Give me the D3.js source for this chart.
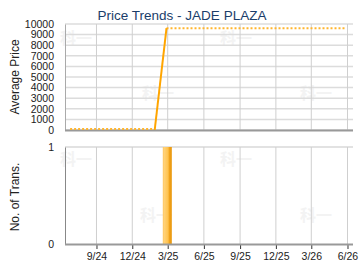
<!DOCTYPE html>
<html><head><meta charset="utf-8">
<script src="https://cdn.jsdelivr.net/npm/d3@7"></script>
<style>
body{margin:0;background:#fff;}
svg{display:block;font-family:"Liberation Sans",Arial,sans-serif;}
</style></head>
<body>
<svg id="c" width="360" height="270"></svg>
<script>
// ---- data ----
const titleText = "Price Trends - JADE PLAZA";
const priceDates = ["2025-01-27", "2025-02-26"];
const avgPrices = [0, 9600];
const extendStart = "2024-06-26";
const extendEnd = "2026-05-26";
const transDates = ["2025-02-28"];
const transCounts = [1];
const priceTicks = [0,1000,2000,3000,4000,5000,6000,7000,8000,9000,10000];
const transTicks = [0,1];
const xTickDates = ["2024-09-01","2024-12-01","2025-03-01","2025-06-01","2025-09-01","2025-12-01","2026-03-01","2026-06-01"];
const xTickLabels = ["9/24","12/24","3/25","6/25","9/25","12/25","3/26","6/26"];
const xDomain = ["2024-06-13","2026-06-15"];

(function(){
const parse = d3.timeParse("%Y-%m-%d");
const svg = d3.select("#c");
const L = 65, R = 353;
const T1 = 24, B1 = 130, T2 = 147, B2 = 244;

const x = d3.scaleTime().domain(xDomain.map(parse)).range([L, R]);
const y1 = d3.scaleLinear().domain([0, 10000]).range([B1, T1]);
const y2 = d3.scaleLinear().domain([0, 1]).range([B2, T2]);

const defs = svg.append("defs");
const g = defs.append("linearGradient").attr("id","barg").attr("x1","0").attr("x2","1").attr("y1","0").attr("y2","0");
[["0%","#FFC45A"],["15%","#FFD27A"],["60%","#FFC24C"],["70%","#F2A41E"],["100%","#E8960A"]].forEach(s=>g.append("stop").attr("offset",s[0]).attr("stop-color",s[1]));

const wm = [[76,44],[158,99],[236,44],[316,99],[76,165],[156,221],[236,165],[316,221]];
svg.append("g").selectAll("text").data(wm).join("text")
  .attr("x",d=>d[0]).attr("y",d=>d[1]).attr("text-anchor","middle")
  .attr("font-size",16).attr("font-weight","bold").attr("fill","#f3f3f3")
  .attr("font-family","'Noto Sans CJK SC',sans-serif").text("科一");

svg.append("text").attr("x",182).attr("y",20).attr("text-anchor","middle")
  .attr("font-size",13.5).attr("fill","#1a3d6a").text(titleText);

const tickDates = xTickDates.map(parse);
const topG = svg.append("g");
topG.append("g").selectAll("line").data(priceTicks).join("line")
  .attr("x1",L).attr("x2",R).attr("y1",d=>y1(d)).attr("y2",d=>y1(d))
  .attr("stroke","#dcdcdc").attr("stroke-width",1.5);
topG.append("g").selectAll("line").data(tickDates).join("line")
  .attr("x1",d=>x(d)).attr("x2",d=>x(d)).attr("y1",T1).attr("y2",B1)
  .attr("stroke","#cfcfcf").attr("stroke-width",1);
const ay1 = d3.axisLeft(y1).tickValues(priceTicks).tickSize(0).tickPadding(11).tickFormat(d3.format("d"));
const gy1 = topG.append("g").attr("transform",`translate(${L},0)`).call(ay1);
gy1.select(".domain").attr("stroke","#aaa");
gy1.selectAll("text").attr("font-size",10.5).attr("fill","#222").attr("font-family","'Liberation Sans',Arial,sans-serif");
topG.append("line").attr("x1",L).attr("x2",R).attr("y1",B1+0.5).attr("y2",B1+0.5).attr("stroke","#999").attr("stroke-width",2);

const pts = priceDates.map((d,i)=>[parse(d), avgPrices[i]]);
const line = d3.line().x(d=>x(d[0])).y(d=>y1(d[1]));
const startExt = [[parse(extendStart), avgPrices[0]], pts[0]];
const endExt = [pts[pts.length-1], [parse(extendEnd), avgPrices[avgPrices.length-1]]];
[startExt, endExt].forEach(seg=>{
  topG.append("path").attr("d",line(seg)).attr("fill","none")
    .attr("stroke","#FFB52E").attr("stroke-width",2).attr("stroke-dasharray","2,2")
    .attr("transform", seg===startExt ? "translate(0,-1)" : null);
});
topG.append("path").attr("d",line(pts)).attr("fill","none").attr("stroke","#FFA500").attr("stroke-width",2);

const bot = svg.append("g");
bot.append("line").attr("x1",L).attr("x2",R).attr("y1",y2(1)).attr("y2",y2(1)).attr("stroke","#d8d8d8").attr("stroke-width",1.5);
bot.append("g").selectAll("line").data(tickDates).join("line")
  .attr("x1",d=>x(d)).attr("x2",d=>x(d)).attr("y1",T2).attr("y2",B2)
  .attr("stroke","#cfcfcf").attr("stroke-width",1);
bot.append("g").selectAll("rect").data(transDates.map((d,i)=>[parse(d),transCounts[i]])).join("rect")
  .attr("x",d=>x(d[0])-4.5).attr("width",9)
  .attr("y",d=>y2(d[1])).attr("height",d=>y2(0)-y2(d[1]))
  .attr("fill","url(#barg)");
const ay2 = d3.axisLeft(y2).tickValues(transTicks).tickSize(0).tickPadding(11).tickFormat(d3.format("d"));
const gy2 = bot.append("g").attr("transform",`translate(${L},0)`).call(ay2);
gy2.select(".domain").attr("stroke","#888");
gy2.selectAll("text").attr("font-size",10.5).attr("fill","#222").attr("font-family","'Liberation Sans',Arial,sans-serif");
const ax = d3.axisBottom(x).tickValues(tickDates).tickSize(4).tickPadding(4)
  .tickFormat((d,i)=>xTickLabels[i]);
const gx = bot.append("g").attr("transform",`translate(0,${B2+1})`).call(ax);
gx.select(".domain").remove();
gx.selectAll(".tick line").attr("stroke","#333");
gx.selectAll("text").attr("font-size",10.5).attr("fill","#222").attr("font-family","'Liberation Sans',Arial,sans-serif");
bot.append("line").attr("x1",L).attr("x2",R).attr("y1",B2+0.5).attr("y2",B2+0.5).attr("stroke","#999").attr("stroke-width",2);

svg.append("text").attr("transform","translate(19,77) rotate(-90)").attr("text-anchor","middle")
  .attr("font-size",12).attr("fill","#222").text("Average Price");
svg.append("text").attr("transform","translate(19,197) rotate(-90)").attr("text-anchor","middle")
  .attr("font-size",12).attr("fill","#222").text("No. of Trans.");
})();
</script>
</body></html>
